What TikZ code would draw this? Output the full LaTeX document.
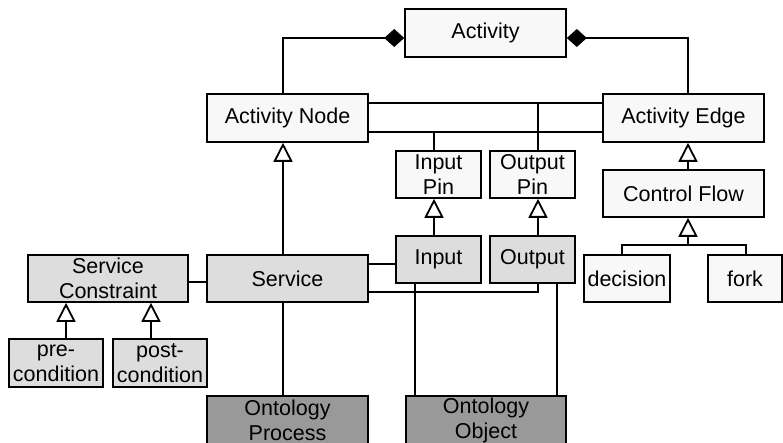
\documentclass[tikz,border=0pt]{standalone}
\usepackage{fontspec}
\setmainfont{Liberation Sans}
\usetikzlibrary{arrows.meta}
\definecolor{cLight}{HTML}{F8F8F8}
\definecolor{cMid}{HTML}{DDDDDD}
\definecolor{cDark}{HTML}{999999}
\begin{document}
\begin{tikzpicture}[x=1pt,y=-1pt,
  box/.style={draw=black,line width=1.6pt,inner sep=0pt,align=center,
    font=\fontsize{21.5}{25}\selectfont,minimum height=47pt},
  lightbox/.style={box,fill=cLight},
  midbox/.style={box,fill=cMid},
  darkbox/.style={box,fill=cDark},
  conn/.style={line width=1.8pt},
  gen/.style={conn,-{Triangle[open,length=19pt,width=19pt,fill=white]}},
  comp/.style={conn,{Diamond[length=20pt,width=18pt]}-}]
\clip (0,0) rectangle (783,443);
\fill[white] (0,0) rectangle (783,443);
% nodes
\node[lightbox,minimum width=161pt,minimum height=48pt] (act) at (485.5,33) {Activity};
\node[lightbox,minimum width=161pt,minimum height=48pt] (an) at (287.5,118) {Activity Node};
\node[lightbox,minimum width=161pt,minimum height=48pt] (ae) at (683.5,118) {Activity Edge};
\node[lightbox,minimum width=85pt] (ip) at (438.5,174.5) {Input\\Pin};
\node[lightbox,minimum width=85pt] (op) at (532.5,174.5) {Output\\Pin};
\node[lightbox,minimum width=161pt] (cf) at (683.5,193.5) {Control Flow};
\node[midbox,minimum width=85pt] (inp) at (438.5,259.5) {Input};
\node[midbox,minimum width=85pt] (outp) at (532.5,259.5) {Output};
\node[midbox,minimum width=161pt] (svc) at (287.5,278.5) {Service};
\node[midbox,minimum width=160pt] (sc) at (108,278.5) {Service\\Constraint};
\node[lightbox,minimum width=86pt] (dec) at (627,278.5) {decision};
\node[lightbox,minimum width=74pt] (fork) at (745,278.5) {fork};
\node[midbox,minimum width=94pt,minimum height=48pt] (pre) at (56,363) {pre-\\condition};
\node[midbox,minimum width=94pt,minimum height=48pt] (post) at (160,363) {post-\\condition};
\node[darkbox,minimum width=161pt,minimum height=48pt] (oproc) at (287.5,420) {Ontology\\Process};
\node[darkbox,minimum width=160pt,minimum height=48pt] (oobj) at (486,420) {Ontology\\Object};
% junction coordinates
\coordinate (jip) at (434,132);
\coordinate (jop) at (538,103);
\coordinate (jcf) at (688,245);
% composition
\draw[comp] ([yshift=-5pt]act.west) -| ([xshift=-4.5pt]an.north);
\draw[comp] ([yshift=-5pt]act.east) -| ([xshift=4.5pt]ae.north);
% associations between node and edge
\draw[conn] ([yshift=15pt]an.east) -- ([yshift=15pt]ae.west);
\draw[conn] ([yshift=-14pt]an.east) -- ([yshift=-14pt]ae.west);
\draw[conn] ([xshift=-4.5pt]ip.north) -- (jip);
\draw[conn] ([xshift=5.5pt]op.north) -- (jop);
% generalizations
\draw[gen] ([xshift=-4.5pt]inp.north) -- ([xshift=-4.5pt]ip.south);
\draw[gen] ([xshift=5.5pt]outp.north) -- ([xshift=5.5pt]op.south);
\draw[gen] ([xshift=-4.5pt]svc.north) -- ([xshift=-4.5pt]an.south);
\draw[gen] ([xshift=4.5pt]cf.north) -- ([xshift=4.5pt]ae.south);
\draw[conn] ([xshift=-5pt]dec.north) |- ([xshift=1pt]fork.north |- jcf) -- ([xshift=1pt]fork.north);
\draw[gen] (jcf) -- ([xshift=4.5pt]cf.south);
\draw[gen] ([xshift=10pt]pre.north) -- ([xshift=10pt]pre.north |- sc.south);
\draw[gen] ([xshift=-9pt]post.north) -- ([xshift=-9pt]post.north |- sc.south);
% service associations
\draw[conn] ([yshift=-3.5pt]sc.east) -- ([yshift=-3.5pt]svc.west);
\draw[conn] ([yshift=14.5pt]svc.east) -- ([yshift=-4.5pt]inp.west);
\draw[conn] ([yshift=-13.5pt]svc.east) -| ([xshift=5.5pt]outp.south);
\draw[conn] ([xshift=-4.5pt]svc.south) -- ([xshift=-4.5pt]oproc.north);
\draw[conn] ([xshift=-23.5pt]inp.south) -- ([xshift=-23.5pt]inp.south |- oobj.north);
\draw[conn] ([xshift=24.5pt]outp.south) -- ([xshift=24.5pt]outp.south |- oobj.north);
\end{tikzpicture}
\end{document}
